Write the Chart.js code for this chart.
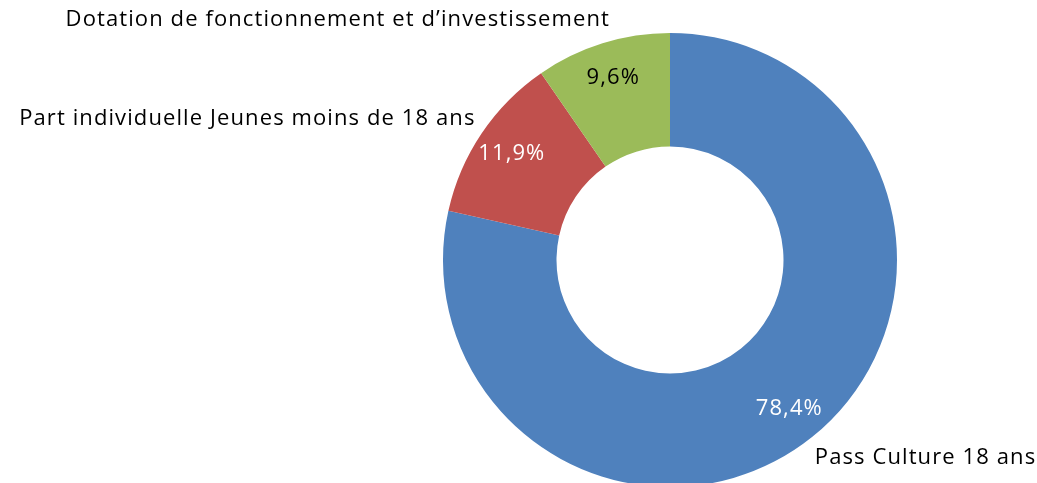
<!DOCTYPE html>
<html>
<head>
<meta charset="utf-8">
<script src="https://cdn.jsdelivr.net/npm/chart.js@4/dist/chart.umd.min.js"></script>
<style>
  html, body { margin: 0; padding: 0; background: #fff; overflow: hidden; }
  #wrap { width: 1037px; height: 520px; }
</style>
</head>
<body>
<div id="wrap"><canvas id="c"></canvas></div>
<script>
// data
let cats = ['Pass Culture 18 ans', 'Part individuelle Jeunes moins de 18 ans', 'Dotation de fonctionnement et d\u2019investissement'];
let vals = [78.4, 11.9, 9.6];
let pctTxt = ['78,4%', '11,9%', '9,6%'];
let cols = ['#4F81BD', '#C0504D', '#9BBB59'];
let pctCols = ['#fff', '#fff', '#000'];
// small nudges for the outside labels (px)
let nudge = [[-11, 4], [12, -2], [14, -3]];

let fnt = '22px "Open Sans", sans-serif';

// draws percentages inside and category names outside
let lblPlugin = {
    id: 'lbls',
    afterDatasetsDraw(chart) {
        let ctx = chart.ctx;
        let arcs = chart.getDatasetMeta(0).data;
        ctx.save();
        ctx.font = fnt;
        ctx.letterSpacing = '1.1px';
        ctx.textBaseline = 'middle';
        arcs.forEach((a, i) => {
            let mid = (a.startAngle + a.endAngle) / 2;
            let r1 = a.innerRadius + 0.68 * (a.outerRadius - a.innerRadius);
            ctx.fillStyle = pctCols[i];
            ctx.textAlign = 'center';
            ctx.fillText(pctTxt[i], a.x + Math.cos(mid) * r1, a.y + Math.sin(mid) * r1);

            let r2 = a.outerRadius + 22;
            let x = a.x + Math.cos(mid) * r2 + nudge[i][0];
            let y = a.y + Math.sin(mid) * r2 + nudge[i][1];
            ctx.fillStyle = '#000';
            ctx.textAlign = x > a.x ? 'left' : 'right';
            ctx.fillText(cats[i], x, y);
        });
        ctx.restore();
    }
};

new Chart(document.getElementById('c'), {
    type: 'doughnut',
    data: {
        labels: cats,
        datasets: [{
            data: vals,
            backgroundColor: cols,
            borderWidth: 0
        }]
    },
    options: {
        responsive: true,
        maintainAspectRatio: false,
        animation: false,
        cutout: '50%',
        layout: { padding: { top: 33, bottom: 33, left: 443, right: 140 } },
        plugins: { legend: { display: false }, tooltip: { enabled: false } }
    },
    plugins: [lblPlugin]
});
</script>
</body>
</html>
